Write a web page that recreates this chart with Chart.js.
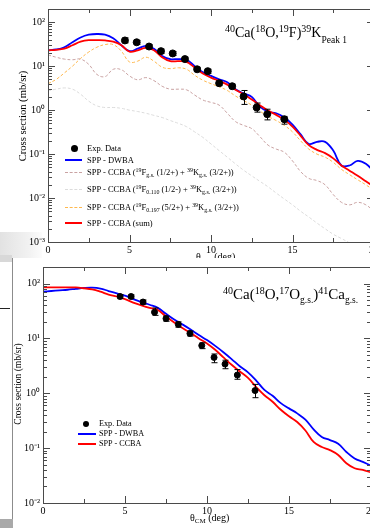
<!DOCTYPE html>
<html><head><meta charset="utf-8">
<script src="https://cdn.jsdelivr.net/npm/chart.js@4.4.1/dist/chart.umd.min.js"></script>
<style>
html,body{margin:0;padding:0;background:#fff;}
body{width:370px;height:528px;overflow:hidden;position:relative;font-family:"Liberation Serif","Times New Roman",serif;color:#000;}
.abs{position:absolute;}
.lg{position:absolute;white-space:nowrap;line-height:10px;font-size:8.5px;}
.lg2{position:absolute;white-space:nowrap;line-height:10px;font-size:8.2px;}
.sw{position:absolute;height:0;}
.dot{position:absolute;border-radius:50%;background:#000;}
.sup{position:relative;font-size:70%;top:-0.45em;}
.sub{position:relative;font-size:70%;top:0.35em;}
.ttl{position:absolute;white-space:nowrap;line-height:1;}
.ytl{position:absolute;white-space:nowrap;transform-origin:center center;transform:translate(-50%,-50%) rotate(-90deg);line-height:1;}
</style></head>
<body>
<div class="abs" style="left:0;top:232px;width:42px;height:30px;background:linear-gradient(to right,#e2e2e2,#f2f2f2 70%,#fcfcfc);"></div>
<div class="abs" style="left:0;top:0;width:390px;height:262px;"><canvas id="c1" width="390" height="262"></canvas></div>
<div class="ttl" style="left:225px;top:26px;font-size:14px;"><span class="sup" style="font-size:10px;top:-5px">40</span>Ca(<span class="sup" style="font-size:10px;top:-5px">18</span>O,<span class="sup" style="font-size:10px;top:-5px">19</span>F)<span class="sup" style="font-size:10px;top:-5px">39</span>K<span class="sub" style="font-size:9.5px;top:6px">Peak 1</span></div>
<div class="ytl" style="left:23px;top:116px;font-size:10.6px;">Cross section (mb/sr)</div>
<div class="dot" style="left:71px;top:145px;width:7px;height:7px;"></div>
<div class="lg" style="left:87px;top:143px">Exp. Data</div>
<div class="sw" style="left:65px;top:159px;width:17px;border-top:2px solid #0000ff"></div>
<div class="lg" style="left:87px;top:155px">SPP - DWBA</div>
<div class="sw" style="left:65px;top:172px;width:17px;border-top:1px dashed #c9a2a2"></div>
<div class="lg" style="left:87px;top:167px">SPP - CCBA (<span class="sup">19</span>F<span class="sub">g.s.</span> (1/2+) + <span class="sup">39</span>K<span class="sub">g.s.</span> (3/2+))</div>
<div class="sw" style="left:65px;top:189px;width:17px;border-top:1px dashed #dcdcdc"></div>
<div class="lg" style="left:87px;top:184px">SPP - CCBA (<span class="sup">19</span>F<span class="sub">0.110</span> (1/2-) + <span class="sup">39</span>K<span class="sub">g.s.</span> (3/2+))</div>
<div class="sw" style="left:65px;top:207px;width:17px;border-top:1px dashed #ffb84d"></div>
<div class="lg" style="left:87px;top:202px">SPP - CCBA (<span class="sup">19</span>F<span class="sub">0.197</span> (5/2+) + <span class="sup">39</span>K<span class="sub">g.s.</span> (3/2+))</div>
<div class="sw" style="left:65px;top:222px;width:17px;border-top:2px solid #ff0000"></div>
<div class="lg" style="left:87px;top:218px">SPP - CCBA (sum)</div>
<div class="ttl" style="left:196px;top:252px;font-size:10px;">θ<span class="sub">CM</span> (deg)</div>

<div class="abs" style="left:0;top:258px;width:370px;height:270px;background:#fff;"></div>
<div class="abs" style="left:0;top:255px;width:12px;height:7px;background:#d8d8d8;"></div>
<div class="abs" style="left:12px;top:258px;width:1px;height:262px;background:#8c8c8c;"></div>
<div class="abs" style="left:0;top:308px;width:10px;height:1px;background:#222;"></div>
<div class="abs" style="left:0;top:519px;width:13px;height:9px;background:#a9a9a9;"></div>

<div class="abs" style="left:0;top:258px;width:390px;height:270px;"><canvas id="c2" width="390" height="270"></canvas></div>
<div class="ttl" style="left:223px;top:287px;font-size:15px;"><span class="sup" style="font-size:10px;top:-5px">40</span>Ca(<span class="sup" style="font-size:10px;top:-5px">18</span>O,<span class="sup" style="font-size:10px;top:-5px">17</span>O<span class="sub" style="font-size:9.5px;top:4px">g.s.</span>)<span class="sup" style="font-size:10px;top:-5px">41</span>Ca<span class="sub" style="font-size:9.5px;top:4px">g.s.</span></div>
<div class="ytl" style="left:19px;top:384px;font-size:9.5px;">Cross section (mb/sr)</div>
<div class="dot" style="left:83px;top:421px;width:6px;height:6px;"></div>
<div class="lg2" style="left:99px;top:419px">Exp. Data</div>
<div class="sw" style="left:78px;top:433px;width:18px;border-top:2px solid #0000ff"></div>
<div class="lg2" style="left:99px;top:429px">SPP - DWBA</div>
<div class="sw" style="left:78px;top:443px;width:18px;border-top:2px solid #ff0000"></div>
<div class="lg2" style="left:99px;top:439px">SPP - CCBA</div>
<div class="ttl" style="left:190px;top:513px;font-size:10px;">θ<span class="sub">CM</span> (deg)</div>

<script>
// ---------- shared ----------
const xTickValues = [0, 5, 10, 15, 20];
const decadeValues = [0.001, 0.01, 0.1, 1, 10, 100];
const decadeLabels = ['10\u207B\u00B3', '10\u207B\u00B2', '10\u207B\u00B9', '10\u2070', '10\u00B9', '10\u00B2'];

// ---------- top panel: 40Ca(18O,19F)39K Peak 1 ----------
const topAngles = [0,0.5,1,1.5,2,2.5,3,3.5,4,4.5,5,5.5,6,6.5,7,7.5,8,8.5,9,9.5,10,10.5,11,11.5,12,12.5,13,13.5,14,14.5,15,15.5,16,16.5,17,17.5,18,18.5,19,19.5,20];
const topDWBA = [23,24,27,35,45,52,54,52,43,30,22,25,29,25,17,14.5,14.5,14,10,7.3,6,5,4.3,3,2.4,2.0,1.2,0.92,0.85,0.68,0.47,0.28,0.17,0.19,0.19,0.12,0.055,0.055,0.07,0.06,0.04];
const topCCBAsum = [23,23.5,25,30,36,39,39,38.5,36,30,21.5,23,26,23,16,13,13,12.5,9.3,6.8,5.5,4.6,3.8,2.9,2.3,1.75,1.3,0.98,0.78,0.6,0.42,0.26,0.16,0.125,0.105,0.08,0.055,0.042,0.032,0.024,0.018];
const topCCBAgs = [18,16,14.5,14,14.5,11,6.5,5.8,8.5,8.3,6,4.9,5.5,4.7,3.5,3,3,2.9,2.2,1.7,1.5,1.3,0.85,0.55,0.45,0.38,0.25,0.16,0.13,0.11,0.07,0.04,0.028,0.025,0.02,0.012,0.008,0.007,0.008,0.007,0.005];
const topCCBA110 = [2.75,3.0,3.2,3.0,2.3,1.6,1.25,1.15,1.15,1.1,1.0,0.93,0.85,0.76,0.68,0.58,0.5,0.42,0.32,0.24,0.17,0.12,0.085,0.06,0.043,0.032,0.024,0.018,0.013,0.0095,0.007,0.005,0.0037,0.0027,0.002,0.0015,0.0012,0.00095,0.0007,0.0005,0.0004];
const topCCBA197 = [4,5,7,10,15,21,27,31,31,22,12.5,13,16,13,9.5,8.8,9.2,8.5,6.2,4.8,4,3.4,2.8,2.1,1.65,1.3,0.95,0.72,0.58,0.45,0.32,0.2,0.13,0.1,0.085,0.065,0.045,0.034,0.026,0.02,0.015];
const topExpAngle = [4.72,5.44,6.2,6.93,7.65,8.4,9.15,9.8,10.5,11.3,12.0,12.8,13.45,14.5];
const topExpValue = [38.5,35,28,22,19.5,14.5,8.5,7.7,4.1,3.5,2.05,1.15,0.81,0.62];
const topExpLow   = [34,31.5,25,19.5,17.5,13,7.6,6.9,3.6,3.1,1.35,0.9,0.6,0.48];
const topExpHigh  = [44,38.5,31,24.5,21.5,16,9.4,8.5,4.6,3.9,2.8,1.45,1.05,0.72];

// ---------- bottom panel: 40Ca(18O,17O g.s.)41Ca g.s. ----------
const botAngles = topAngles;
const botDWBA = [71,73,75,77,80,83,84,81,73,66,60,52,46,41,36,28,22,18,14.5,11.5,9.3,7.3,5.6,4.2,3.1,2.4,1.7,1.15,0.9,0.66,0.53,0.43,0.33,0.22,0.16,0.14,0.12,0.085,0.065,0.056,0.048];
const botCCBA = [85,85,85,85,85,82,78,71,63,58,52,45,40,36,33,25,19.5,15.5,12.5,10,8.1,6.2,4.5,3.3,2.5,1.9,1.3,0.92,0.7,0.5,0.38,0.3,0.21,0.13,0.105,0.092,0.075,0.053,0.043,0.04,0.036];
const botExpAngle = [4.7,5.37,6.1,6.8,7.5,8.25,8.96,9.68,10.43,11.1,11.85,12.93];
const botExpValue = [58,58,46,30,23,18,12.3,7.4,4.5,3.4,2.15,1.12];
const botExpLow   = [53,54,42,26.3,20.5,16,11,6.5,3.6,2.8,1.8,0.83];
const botExpHigh  = [63,62,50,35.8,25.5,20,13.6,8.3,5.2,4.0,2.7,1.45];

const pts = (xs, ys) => xs.map((x, i) => ({x, y: ys[i]}));
const FONT = 'Liberation Serif';

function decadeLabel(v){
  for (let i = 0; i < decadeValues.length; i++) {
    if (Math.abs(Math.log10(v) - Math.log10(decadeValues[i])) < 1e-6) return decadeLabels[i];
  }
  return '';
}

const frameTicks = {
  id: 'frameTicks',
  afterDraw(chart) {
    const {ctx, chartArea: {left, right, top, bottom}, scales: {x, y}} = chart;
    ctx.save();
    ctx.strokeStyle = '#4a4a4a';
    ctx.lineWidth = 1;
    ctx.strokeRect(Math.round(left) + 0.5, Math.round(top) + 0.5, Math.round(right - left), Math.round(bottom - top));
    ctx.beginPath();
    for (let v = x.min; v <= x.max + 1e-9; v += 2.5) {
      const px = Math.round(x.getPixelForValue(v)) + 0.5;
      const len = (Math.abs(v % 5) < 1e-9) ? 7 : 4;
      ctx.moveTo(px, bottom); ctx.lineTo(px, bottom - len);
      ctx.moveTo(px, top); ctx.lineTo(px, top + len);
    }
    const dmin = Math.floor(Math.log10(y.min)), dmax = Math.ceil(Math.log10(y.max));
    for (let d = dmin; d <= dmax; d++) {
      for (let m = 1; m <= 9; m++) {
        const v = m * Math.pow(10, d);
        if (v < y.min * 0.999 || v > y.max * 1.001) continue;
        const py = Math.round(y.getPixelForValue(v)) + 0.5;
        const len = m === 1 ? 7 : 4;
        ctx.moveTo(left, py); ctx.lineTo(left + len, py);
        ctx.moveTo(right, py); ctx.lineTo(right - len, py);
      }
    }
    ctx.stroke();
    ctx.restore();
  }
};

const errorBars = {
  id: 'errorBars',
  afterDatasetsDraw(chart) {
    const {ctx, scales: {x, y}} = chart;
    chart.data.datasets.forEach(ds => {
      if (!ds.errLow) return;
      ctx.save();
      ctx.strokeStyle = '#000';
      ctx.lineWidth = 1;
      ctx.beginPath();
      ds.data.forEach((p, i) => {
        const px = Math.round(x.getPixelForValue(p.x)) + 0.5;
        const y1 = y.getPixelForValue(ds.errLow[i]);
        const y2 = y.getPixelForValue(ds.errHigh[i]);
        ctx.moveTo(px, y1); ctx.lineTo(px, y2);
        ctx.moveTo(px - 3, y1); ctx.lineTo(px + 3, y1);
        ctx.moveTo(px - 3, y2); ctx.lineTo(px + 3, y2);
      });
      ctx.stroke();
      ctx.restore();
    });
  }
};

function makeChart(id, datasets, yMin, yMax, pad, yWidth, xHeight, tickFont) {
  return new Chart(document.getElementById(id), {
    type: 'line',
    data: {datasets},
    options: {
      responsive: false, animation: false, devicePixelRatio: 1,
      layout: {padding: pad},
      plugins: {legend: {display: false}, tooltip: {enabled: false}},
      elements: {point: {radius: 0}},
      scales: {
        x: {
          type: 'linear', min: 0, max: 20,
          afterFit: s => { s.height = xHeight; },
          afterBuildTicks: s => { s.ticks = xTickValues.map(v => ({value: v})); },
          grid: {display: false, drawTicks: false},
          border: {display: false},
          ticks: {padding: 2, color: '#000', font: {family: FONT, size: tickFont}, maxRotation: 0}
        },
        y: {
          type: 'logarithmic', min: yMin, max: yMax,
          afterFit: s => { s.width = yWidth; },
          grid: {display: false, drawTicks: false},
          border: {display: false},
          ticks: {padding: 3, color: '#000', font: {family: FONT, size: tickFont}, autoSkip: false, callback: v => decadeLabel(v)}
        }
      }
    },
    plugins: [frameTicks, errorBars]
  });
}

const dashed = (label, data, color) => ({label, data, borderColor: color, borderWidth: 1, borderDash: [3, 2], tension: 0.4, pointRadius: 0, fill: false});
const solid = (label, data, color) => ({label, data, borderColor: color, borderWidth: 1.8, tension: 0.4, pointRadius: 0, fill: false});

makeChart('c1', [
  {label: 'Exp. Data', data: pts(topExpAngle, topExpValue), showLine: false, pointRadius: 3.5, pointBackgroundColor: '#000', pointBorderColor: '#000', errLow: topExpLow, errHigh: topExpHigh, order: 0},
  dashed('SPP - CCBA (19F g.s. (1/2+) + 39K g.s. (3/2+))', pts(topAngles, topCCBAgs), '#c9a2a2'),
  dashed('SPP - CCBA (19F 0.110 (1/2-) + 39K g.s. (3/2+))', pts(topAngles, topCCBA110), '#dcdcdc'),
  dashed('SPP - CCBA (19F 0.197 (5/2+) + 39K g.s. (3/2+))', pts(topAngles, topCCBA197), '#ffb84d'),
  solid('SPP - CCBA (sum)', pts(topAngles, topCCBAsum), '#ff0000'),
  solid('SPP - DWBA', pts(topAngles, topDWBA), '#0000ff')
], 0.001, 200, {left: 0, top: 6, right: 16, bottom: 0}, 48, 20, 10);

makeChart('c2', [
  {label: 'Exp. Data', data: pts(botExpAngle, botExpValue), showLine: false, pointRadius: 3, pointBackgroundColor: '#000', pointBorderColor: '#000', errLow: botExpLow, errHigh: botExpHigh, order: 0},
  solid('SPP - CCBA', pts(botAngles, botCCBA), '#ff0000'),
  solid('SPP - DWBA', pts(botAngles, botDWBA), '#0000ff')
], 0.01, 200, {left: 0, top: 6, right: 19, bottom: 0}, 43, 25, 10);
</script>
</body></html>
